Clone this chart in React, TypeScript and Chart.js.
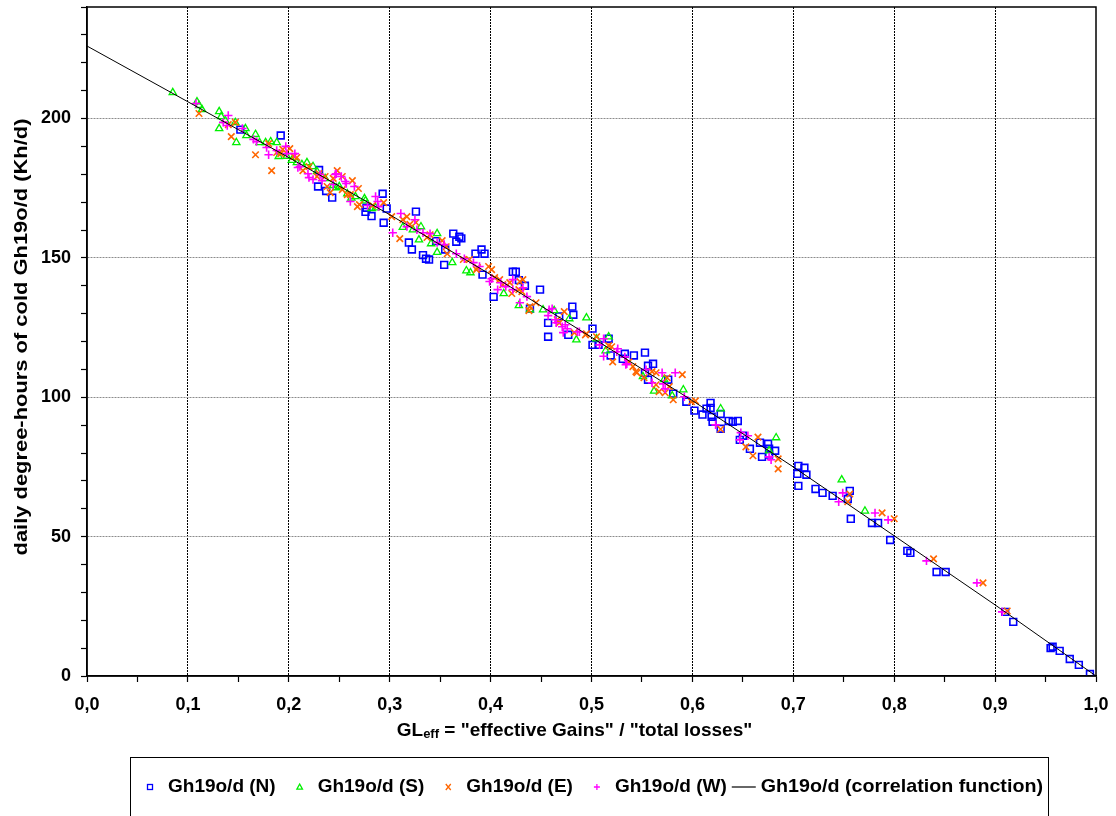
import React, { useEffect, useRef } from 'react';
import { Chart, registerables } from 'chart.js';

Chart.register(...registerables);

// ---------------- DATA ----------------
const N_X = [0.152, 0.192, 0.230, 0.229, 0.237, 0.243, 0.276, 0.282, 0.277, 0.293, 0.297, 0.294, 0.326, 0.319, 0.322, 0.333, 0.336, 0.339, 0.346, 0.355, 0.354, 0.363, 0.366, 0.369, 0.371, 0.385, 0.391, 0.394, 0.392, 0.403, 0.422, 0.425, 0.428, 0.434, 0.449, 0.439, 0.457, 0.457, 0.468, 0.481, 0.482, 0.477, 0.501, 0.501, 0.507, 0.517, 0.519, 0.533, 0.531, 0.542, 0.553, 0.556, 0.561, 0.553, 0.556, 0.576, 0.581, 0.594, 0.602, 0.610, 0.618, 0.618, 0.614, 0.628, 0.619, 0.620, 0.636, 0.640, 0.645, 0.628, 0.647, 0.650, 0.657, 0.667, 0.675, 0.676, 0.682, 0.669, 0.676, 0.705, 0.711, 0.704, 0.713, 0.705, 0.722, 0.729, 0.739, 0.756, 0.754, 0.757, 0.778, 0.784, 0.796, 0.813, 0.816, 0.842, 0.851, 0.910, 0.918, 0.955, 0.957, 0.964, 0.974, 0.983, 0.994];
const N_Y = [196.0, 193.9, 181.5, 175.6, 174.0, 171.6, 166.5, 165.0, 168.0, 173.0, 167.7, 162.6, 166.6, 155.5, 153.0, 151.0, 149.7, 149.4, 156.0, 153.0, 147.5, 158.7, 155.8, 157.6, 157.0, 151.5, 153.0, 151.5, 144.0, 136.0, 145.0, 145.0, 142.0, 140.0, 138.6, 131.8, 121.7, 126.7, 129.0, 132.5, 129.6, 122.4, 124.6, 118.8, 118.8, 121.0, 115.0, 115.6, 113.8, 115.0, 116.0, 111.3, 112.0, 108.7, 106.3, 106.3, 101.3, 98.4, 95.2, 93.8, 98.0, 96.2, 95.9, 94.0, 93.0, 91.2, 91.5, 91.2, 91.5, 88.7, 84.7, 86.2, 81.5, 83.7, 83.3, 81.5, 80.8, 78.6, 79.4, 75.4, 74.7, 72.5, 72.2, 68.2, 67.1, 65.7, 64.6, 66.4, 63.5, 56.4, 54.9, 54.9, 48.8, 44.9, 44.2, 37.3, 37.3, 23.0, 19.4, 10.0, 10.5, 9.0, 6.1, 4.0, 0.7];

const S_X = [0.085, 0.109, 0.111, 0.114, 0.131, 0.131, 0.133, 0.137, 0.147, 0.148, 0.157, 0.158, 0.167, 0.171, 0.177, 0.182, 0.188, 0.190, 0.198, 0.203, 0.208, 0.213, 0.218, 0.224, 0.228, 0.236, 0.244, 0.247, 0.250, 0.258, 0.262, 0.266, 0.275, 0.276, 0.282, 0.286, 0.313, 0.323, 0.329, 0.331, 0.341, 0.347, 0.347, 0.362, 0.376, 0.380, 0.413, 0.428, 0.439, 0.452, 0.463, 0.478, 0.485, 0.495, 0.505, 0.517, 0.514, 0.551, 0.562, 0.572, 0.580, 0.591, 0.628, 0.683, 0.676, 0.748, 0.771];
const S_Y = [209.3, 206.0, 204.7, 203.2, 202.5, 196.4, 200.7, 199.3, 198.6, 191.4, 196.4, 193.9, 194.3, 191.4, 191.4, 191.7, 191.4, 186.4, 186.5, 185.0, 184.2, 183.5, 184.2, 182.8, 181.0, 178.5, 176.0, 175.2, 175.6, 173.0, 171.5, 172.0, 171.3, 170.5, 167.7, 168.0, 161.0, 160.1, 156.5, 161.2, 155.1, 158.7, 152.0, 148.3, 145.4, 144.7, 137.2, 132.9, 131.4, 131.4, 131.1, 128.2, 120.6, 128.5, 121.0, 121.7, 116.7, 107.4, 102.2, 106.4, 100.5, 102.7, 95.9, 85.5, 80.8, 70.4, 59.2];

const E_X = [0.111, 0.143, 0.167, 0.183, 0.147, 0.140, 0.194, 0.201, 0.205, 0.188, 0.180, 0.192, 0.208, 0.220, 0.228, 0.236, 0.248, 0.253, 0.263, 0.269, 0.261, 0.268, 0.283, 0.238, 0.244, 0.214, 0.241, 0.230, 0.253, 0.258, 0.270, 0.294, 0.302, 0.310, 0.313, 0.317, 0.320, 0.326, 0.337, 0.340, 0.352, 0.356, 0.357, 0.373, 0.379, 0.386, 0.387, 0.398, 0.401, 0.404, 0.409, 0.412, 0.419, 0.421, 0.428, 0.429, 0.431, 0.432, 0.439, 0.438, 0.445, 0.466, 0.468, 0.473, 0.483, 0.494, 0.495, 0.505, 0.517, 0.520, 0.521, 0.537, 0.541, 0.544, 0.545, 0.552, 0.560, 0.564, 0.564, 0.567, 0.573, 0.575, 0.577, 0.581, 0.590, 0.599, 0.603, 0.628, 0.653, 0.660, 0.665, 0.685, 0.685, 0.754, 0.756, 0.788, 0.800, 0.839, 0.888, 0.912];
const E_Y = [201.8, 193.5, 187.0, 181.3, 198.6, 197.8, 188.9, 189.2, 186.4, 187.8, 191.0, 187.4, 186.0, 182.8, 179.2, 179.2, 181.3, 179.2, 177.7, 174.9, 172.7, 168.4, 168.8, 175.6, 178.5, 181.3, 173.4, 180.2, 174.5, 172.7, 169.1, 169.8, 164.8, 156.9, 163.7, 164.8, 162.0, 162.7, 157.3, 158.3, 156.2, 154.0, 151.5, 149.4, 149.4, 145.8, 146.5, 146.9, 145.8, 142.9, 142.2, 140.4, 141.1, 137.2, 138.6, 141.5, 137.9, 142.2, 132.5, 131.1, 133.9, 127.8, 126.7, 130.7, 123.2, 122.4, 122.8, 121.7, 118.5, 118.1, 112.7, 112.7, 111.0, 109.2, 108.8, 107.0, 109.2, 108.8, 104.5, 102.0, 101.6, 107.0, 103.8, 99.1, 108.1, 98.4, 98.7, 88.5, 82.2, 79.0, 85.7, 77.9, 74.3, 62.5, 65.3, 58.5, 56.4, 42.0, 33.4, 23.3];

const W_X = [0.108, 0.135, 0.139, 0.140, 0.154, 0.165, 0.168, 0.178, 0.180, 0.188, 0.197, 0.198, 0.206, 0.209, 0.211, 0.219, 0.220, 0.224, 0.231, 0.233, 0.244, 0.246, 0.247, 0.252, 0.256, 0.257, 0.261, 0.265, 0.278, 0.286, 0.288, 0.289, 0.303, 0.311, 0.317, 0.325, 0.327, 0.333, 0.340, 0.347, 0.354, 0.366, 0.374, 0.383, 0.389, 0.399, 0.401, 0.407, 0.410, 0.415, 0.422, 0.422, 0.429, 0.432, 0.436, 0.457, 0.458, 0.461, 0.464, 0.465, 0.471, 0.472, 0.474, 0.476, 0.486, 0.488, 0.508, 0.512, 0.512, 0.525, 0.526, 0.533, 0.534, 0.535, 0.554, 0.560, 0.570, 0.571, 0.573, 0.583, 0.592, 0.623, 0.647, 0.648, 0.655, 0.676, 0.678, 0.745, 0.749, 0.781, 0.794, 0.832, 0.882, 0.907];
const W_Y = [205.4, 198.6, 197.5, 201.1, 196.4, 192.5, 191.7, 189.6, 187.0, 188.5, 190.0, 187.4, 187.4, 182.4, 182.8, 180.2, 178.8, 178.1, 179.9, 177.7, 176.3, 179.9, 180.2, 179.2, 177.4, 176.7, 170.2, 175.6, 168.8, 172.0, 170.2, 168.4, 159.0, 165.9, 161.2, 163.7, 160.1, 159.0, 158.7, 155.5, 154.8, 151.5, 149.7, 148.3, 146.9, 141.5, 142.5, 138.6, 141.1, 139.7, 142.2, 138.6, 133.9, 139.3, 136.1, 129.3, 131.4, 131.8, 127.8, 126.7, 125.3, 123.2, 126.0, 124.6, 123.5, 123.5, 118.8, 121.0, 114.7, 116.3, 117.4, 114.5, 111.7, 112.0, 109.9, 105.2, 108.8, 104.8, 103.0, 108.8, 100.2, 90.1, 84.7, 87.3, 86.2, 78.6, 77.6, 62.5, 65.7, 58.5, 56.0, 41.3, 33.4, 23.0];

const LINE_X = [0.0, 0.1, 0.2, 0.3, 0.4, 0.5, 0.6, 0.7, 0.8, 0.9, 1.0];
const LINE_Y = [226.0, 206.0, 186.0, 165.5, 144.0, 121.5, 98.8, 75.0, 50.3, 25.5, 0.0];

const Y_LABELED_TICKS = [0, 50, 100, 150, 200];
const X_TICK_LABELS = ['0,0', '0,1', '0,2', '0,3', '0,4', '0,5', '0,6', '0,7', '0,8', '0,9', '1,0'];
const SERIES_NAMES = ['Gh19o/d (N)', 'Gh19o/d (S)', 'Gh19o/d (E)', 'Gh19o/d (W)', 'Gh19o/d (correlation function)'];
const Y_TITLE = 'daily degree-hours of cold Gh19o/d (Kh/d)';
const X_TITLE_MAIN = 'GL';
const X_TITLE_SUB = 'eff';
const X_TITLE_REST = ' = "effective Gains" / "total losses"';

// ---------------- STYLE ----------------
const FONT = '"Liberation Sans", Arial, Helvetica, sans-serif';
const C_N = '#0000ff';
const C_S = '#00f000';
const C_E = '#ff6600';
const C_W = '#ff00ff';

const pts = (xs: number[], ys: number[]) => xs.map((x, i) => ({ x, y: ys[i] }));

function drawLegendMarker(ctx: CanvasRenderingContext2D, kind: number, cx: number, cy: number) {
  ctx.save();
  ctx.lineWidth = 1.3;
  if (kind === 0) {
    ctx.strokeStyle = C_N;
    ctx.strokeRect(cx - 2.5, cy - 2.5, 5, 5);
  } else if (kind === 1) {
    ctx.strokeStyle = C_S;
    ctx.beginPath();
    ctx.moveTo(cx, cy - 3);
    ctx.lineTo(cx + 2.8, cy + 2.2);
    ctx.lineTo(cx - 2.8, cy + 2.2);
    ctx.closePath();
    ctx.stroke();
  } else if (kind === 2) {
    ctx.strokeStyle = C_E;
    ctx.beginPath();
    ctx.moveTo(cx - 2.5, cy - 3);
    ctx.lineTo(cx + 2.5, cy + 3);
    ctx.moveTo(cx + 2.5, cy - 3);
    ctx.lineTo(cx - 2.5, cy + 3);
    ctx.stroke();
  } else if (kind === 3) {
    ctx.strokeStyle = C_W;
    ctx.beginPath();
    ctx.moveTo(cx - 3, cy);
    ctx.lineTo(cx + 3, cy);
    ctx.moveTo(cx, cy - 3);
    ctx.lineTo(cx, cy + 3);
    ctx.stroke();
  }
  ctx.restore();
}

// draw text horizontally stretched by factor sx
function stretchedText(ctx: CanvasRenderingContext2D, text: string, x: number, y: number, sx: number) {
  ctx.save();
  ctx.translate(x, y);
  ctx.scale(sx, 1);
  ctx.fillText(text, 0, 0);
  ctx.restore();
}

const decorPlugin = {
  id: 'decor',
  afterDraw(chart: any) {
    const ctx: CanvasRenderingContext2D = chart.ctx;
    const a = chart.chartArea;
    ctx.save();
    // frame
    ctx.strokeStyle = '#000';
    ctx.lineWidth = 1.5;
    ctx.strokeRect(a.left, a.top, a.right - a.left, a.bottom - a.top);

    ctx.fillStyle = '#000';
    // Y title (rotated)
    ctx.save();
    ctx.font = `bold 19px ${FONT}`;
    ctx.textAlign = 'center';
    ctx.textBaseline = 'middle';
    ctx.translate(22, 337);
    ctx.rotate(-Math.PI / 2);
    const yw = ctx.measureText(Y_TITLE).width;
    ctx.scale(437 / yw, 1);
    ctx.fillText(Y_TITLE, 0, 0);
    ctx.restore();

    // X title with subscript
    const SX = 1.0;
    const mainFont = `bold 19px ${FONT}`;
    const subFont = `bold 13px ${FONT}`;
    ctx.textBaseline = 'alphabetic';
    ctx.textAlign = 'left';
    ctx.font = mainFont;
    const w1 = ctx.measureText(X_TITLE_MAIN).width * SX;
    const w3 = ctx.measureText(X_TITLE_REST).width * SX;
    ctx.font = subFont;
    const w2 = ctx.measureText(X_TITLE_SUB).width * SX;
    const total = w1 + w2 + w3;
    let tx = 574.5 - total / 2;
    const ty = 736;
    ctx.font = mainFont;
    stretchedText(ctx, X_TITLE_MAIN, tx, ty, SX);
    tx += w1;
    ctx.font = subFont;
    stretchedText(ctx, X_TITLE_SUB, tx, ty + 2, SX);
    tx += w2;
    ctx.font = mainFont;
    stretchedText(ctx, X_TITLE_REST, tx, ty, SX);

    // Legend box
    ctx.lineWidth = 1;
    ctx.strokeStyle = '#000';
    ctx.strokeRect(130.5, 757.5, 918, 70);
    const ly = 787;
    const LSX = 1.0;
    ctx.font = `bold 19px ${FONT}`;
    ctx.textBaseline = 'middle';
    let cur = 145;
    SERIES_NAMES.forEach((name, i) => {
      if (i < 4) {
        drawLegendMarker(ctx, i, cur + 5, ly);
        stretchedText(ctx, name, cur + 23, ly, LSX);
        cur = cur + 23 + ctx.measureText(name).width * LSX + 19;
      } else {
        const lx = cur - 14;
        ctx.save();
        ctx.strokeStyle = '#000';
        ctx.lineWidth = 1.2;
        ctx.beginPath();
        ctx.moveTo(lx, ly);
        ctx.lineTo(lx + 24, ly);
        ctx.stroke();
        ctx.restore();
        const tw = ctx.measureText(name).width;
        stretchedText(ctx, name, lx + 29, ly, (1043 - (lx + 29)) / tw);
      }
    });
    ctx.restore();
  },
};

export default function App() {
  const canvasRef = useRef<HTMLCanvasElement | null>(null);

  useEffect(() => {
    const canvas = canvasRef.current;
    if (!canvas) return;
    const tickFont = { family: FONT, size: 18, weight: 'bold' as const };
    const chart = new Chart(canvas, {
      type: 'scatter',
      data: {
        datasets: [
          {
            label: SERIES_NAMES[0],
            data: pts(N_X, N_Y),
            pointStyle: 'rect',
            pointRadius: 4.8,
            pointBorderWidth: 1.6,
            pointBorderColor: C_N,
            pointBackgroundColor: 'rgba(0,0,0,0)',
            order: 5,
          },
          {
            label: SERIES_NAMES[1],
            data: pts(S_X, S_Y),
            pointStyle: 'triangle',
            pointRadius: 4.2,
            pointBorderWidth: 1.3,
            pointBorderColor: C_S,
            pointBackgroundColor: 'rgba(0,0,0,0)',
            order: 4,
          },
          {
            label: SERIES_NAMES[2],
            data: pts(E_X, E_Y),
            pointStyle: 'crossRot',
            pointRadius: 4.6,
            pointBorderWidth: 1.6,
            pointBorderColor: C_E,
            pointBackgroundColor: C_E,
            order: 3,
          },
          {
            label: SERIES_NAMES[3],
            data: pts(W_X, W_Y),
            pointStyle: 'cross',
            pointRadius: 4.2,
            pointBorderWidth: 1.6,
            pointBorderColor: C_W,
            pointBackgroundColor: C_W,
            order: 2,
          },
          {
            label: SERIES_NAMES[4],
            data: pts(LINE_X, LINE_Y),
            showLine: true,
            borderColor: '#000',
            borderWidth: 1,
            pointRadius: 0,
            fill: false,
            order: 1,
          } as any,
        ],
      },
      options: {
        animation: false,
        responsive: false,
        devicePixelRatio: 1,
        events: [],
        layout: { padding: { left: 0, right: 20, top: 7, bottom: 60 } },
        plugins: {
          legend: { display: false },
          tooltip: { enabled: false },
          title: { display: false },
        },
        scales: {
          x: {
            type: 'linear',
            min: 0,
            max: 1,
            afterFit: (s: any) => {
              s.height = 80;
              s.paddingLeft = 0;
              s.paddingRight = 0;
            },
            afterBuildTicks: (s: any) => {
              s.ticks = Array.from({ length: 21 }, (_, i) => ({ value: i / 20 }));
            },
            ticks: {
              autoSkip: false,
              maxRotation: 0,
              padding: 12,
              color: '#000',
              font: tickFont,
              callback: (v: any) => {
                const k = Math.round(Number(v) * 20);
                return k % 2 === 0 ? X_TICK_LABELS[k / 2] : '';
              },
            },
            grid: {
              color: (c: any) => {
                const k = Math.round((c.tick ? c.tick.value : 0) * 20);
                return k % 2 === 0 && k > 0 && k < 20 ? '#000' : 'rgba(0,0,0,0)';
              },
              lineWidth: 1,
              tickColor: '#000',
              tickLength: 6,
              tickWidth: 1.2,
            },
            border: { display: true, color: '#000', width: 1.5, dash: [2, 1] },
          },
          y: {
            type: 'linear',
            min: 0,
            max: 240,
            afterFit: (s: any) => {
              s.width = 87;
              s.paddingTop = 0;
              s.paddingBottom = 0;
            },
            afterBuildTicks: (s: any) => {
              s.ticks = Array.from({ length: 25 }, (_, i) => ({ value: i * 10 }));
            },
            ticks: {
              autoSkip: false,
              padding: 10,
              color: '#000',
              font: tickFont,
              callback: (v: any) => (Y_LABELED_TICKS.includes(Number(v)) ? String(v) : ''),
            },
            grid: {
              color: (c: any) => {
                const v = c.tick ? c.tick.value : 0;
                return Y_LABELED_TICKS.includes(v) && v > 0 ? '#8c8c8c' : 'rgba(0,0,0,0)';
              },
              lineWidth: 1,
              tickColor: '#000',
              tickLength: 6,
              tickWidth: 1.2,
            },
            border: { display: true, color: '#000', width: 1.5, dash: [2, 1] },
          },
        },
      },
      plugins: [decorPlugin],
    });
    return () => chart.destroy();
  }, []);

  return (
    <div style={{ position: 'fixed', left: 0, top: 0, width: 1116, height: 816, background: '#fff' }}>
      <canvas ref={canvasRef} width={1116} height={816} style={{ display: 'block', width: 1116, height: 816 }} />
    </div>
  );
}
